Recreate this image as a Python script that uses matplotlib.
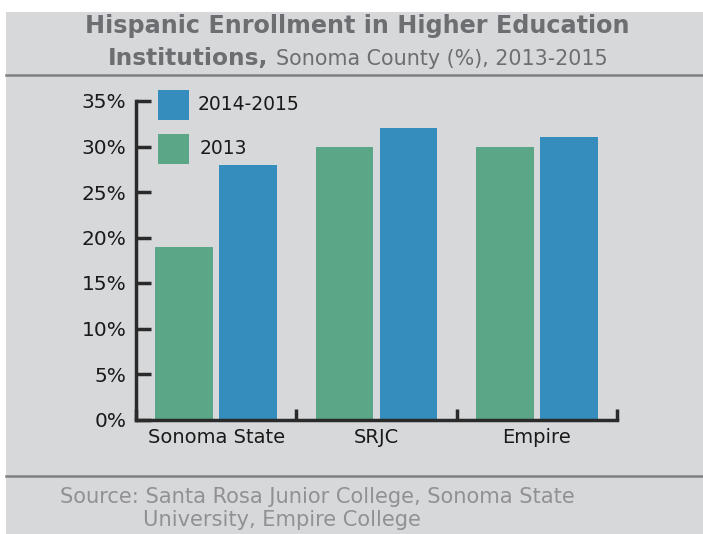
import matplotlib.pyplot as plt
from matplotlib.patches import Rectangle
from matplotlib.lines import Line2D
import numpy as np

plt.rcParams['font.family'] = ['DejaVu Sans']

categories = ['Sonoma State', 'SRJC', 'Empire']
vals_2013 = [19, 30, 30]
vals_2014_15 = [28, 32, 31]
yticks = [0, 5, 10, 15, 20, 25, 30, 35]

green = '#5aa687'
blue = '#348dbd'
bg = '#d7d8da'
dark = '#2b2a2a'
grey_txt = '#6d6e71'

W, H = 703, 534
fig = plt.figure(figsize=(W / 100, H / 100), dpi=100)
fig.patch.set_facecolor('white')
fig.patches.append(Rectangle((6 / W, 0), 1, (H - 12) / H, transform=fig.transFigure,
                             facecolor=bg, edgecolor='none', zorder=-10))
for yy in (75, 476):
    fig.lines.append(Line2D([6 / W, 1], [1 - yy / H, 1 - yy / H], transform=fig.transFigure,
                            color='#808080', lw=1.8))


def fit(txt, target_px):
    # shrink/grow font so the text spans about target_px
    r = fig.canvas.get_renderer()
    w = txt.get_window_extent(r).width
    txt.set_fontsize(txt.get_fontsize() * target_px / w)


# title
t0 = fig.text(357 / W, 1 - 26 / H, 'Hispanic Enrollment in Higher Education', ha='center', va='center',
              fontsize=17, fontweight='bold', color=grey_txt)
fit(t0, 545)
t1 = fig.text(108 / W, 1 - 58 / H, 'Institutions,', ha='left', va='center',
              fontsize=17, fontweight='bold', color=grey_txt)
fit(t1, 160)
t2 = fig.text(276 / W, 1 - 59 / H, 'Sonoma County (%), 2013-2015', ha='left', va='center',
              fontsize=13, color=grey_txt)
fit(t2, 330)

# source
s1 = fig.text(60 / W, 1 - 497 / H, 'Source: Santa Rosa Junior College, Sonoma State', ha='left', va='center',
              fontsize=13, color='#919193')
fit(s1, 517)
fig.text(143 / W, 1 - 520 / H, 'University, Empire College', ha='left', va='center',
         fontsize=s1.get_fontsize(), color='#919193')

ax = fig.add_axes([136 / W, 1 - 419.5 / H, (617 - 136) / W, (419.5 - 101) / H])
ax.set_facecolor('none')

x = np.arange(len(categories))
bw = 0.36
off = 0.199
ax.bar(x - off, vals_2013, bw, color=green, label='2013')
ax.bar(x + off, vals_2014_15, bw, color=blue, label='2014-2015')

ax.set_xlim(-0.5, 2.5)
ax.set_ylim(0, 35)
ax.set_yticks(yticks)
ax.set_yticklabels([f'{v}%' for v in yticks])
ax.tick_params(axis='y', direction='in', length=11, width=2.5, color=dark, pad=7,
               labelsize=14.5, labelcolor='#1a1a1a')
ax.set_xticks([-0.5, 0.5, 1.5, 2.5])
ax.set_xticklabels([])
ax.tick_params(axis='x', which='major', direction='in', length=8, width=2.5, color=dark)
ax.set_xticks(x, minor=True)
ax.set_xticklabels(categories, minor=True)
ax.tick_params(axis='x', which='minor', length=0, pad=6, labelsize=14, labelcolor='#1a1a1a')
for s in ('top', 'right'):
    ax.spines[s].set_visible(False)
for s in ('left', 'bottom'):
    ax.spines[s].set_linewidth(2.5)
    ax.spines[s].set_color(dark)
ax.spines['left'].set_capstyle('projecting')

# legend
fig.patches.append(Rectangle((158 / W, 1 - 120 / H), 31 / W, 30 / H, transform=fig.transFigure,
                             facecolor=blue, edgecolor='none'))
fig.patches.append(Rectangle((158 / W, 1 - 164 / H), 31 / W, 30 / H, transform=fig.transFigure,
                             facecolor=green, edgecolor='none'))
fig.text(198 / W, 1 - 104 / H, '2014-2015', ha='left', va='center', fontsize=13.5, color='#1a1a1a')
fig.text(200 / W, 1 - 149 / H, '2013', ha='left', va='center', fontsize=13.5, color='#1a1a1a')

fig.savefig('out.png', dpi=100, facecolor=fig.get_facecolor())
